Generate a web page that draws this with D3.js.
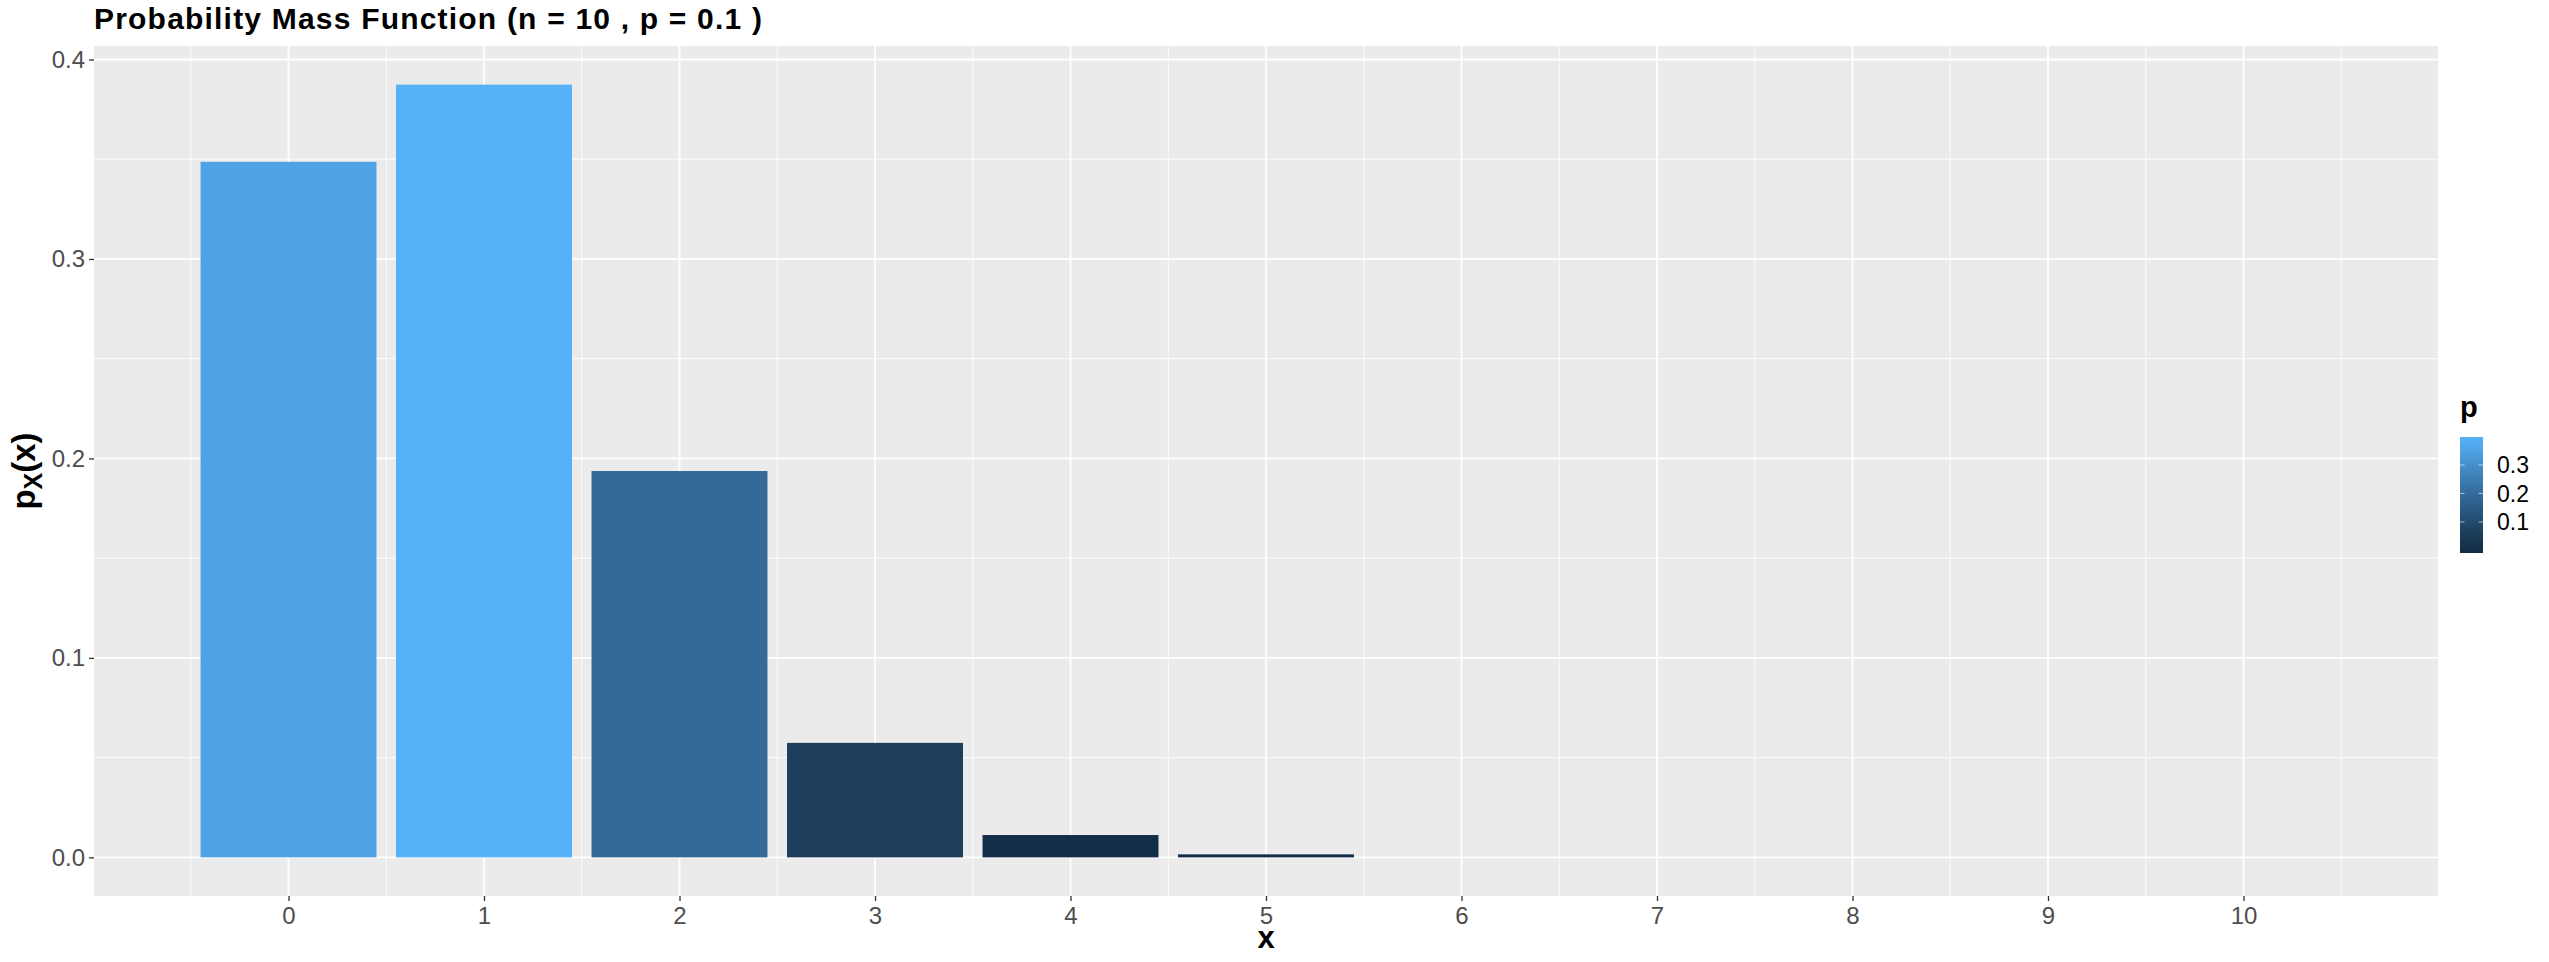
<!DOCTYPE html>
<html><head><meta charset="utf-8">
<script src="https://cdn.jsdelivr.net/npm/d3@7"></script>
<style>
html,body{margin:0;padding:0;background:#fff;}
svg{display:block;font-family:"Liberation Sans",Arial,Helvetica,sans-serif;}
</style></head>
<body>
<svg id="chart" width="2549" height="962"></svg>
<script>
// Data
const xValues = [0,1,2,3,4,5,6,7,8,9,10];
const pmf = [0.3487,0.3874,0.1937,0.0574,0.0112,0.0015,0.0000,0.0000,0.0000,0.0000,0.0000];
const yTicks = [0,0.1,0.2,0.3,0.4];
const xTicks = [0,1,2,3,4,5,6,7,8,9,10];
const legendTicks = [0.1,0.2,0.3];
const titleText = "Probability Mass Function (n = 10 , p = 0.1 )";

const svg = d3.select("#chart");
const P = {left:94, right:2438, top:46, bottom:896};
const barW = 0.9;

const xmin = d3.min(xValues) - barW/2, xmax = d3.max(xValues) + barW/2;
const xexp = (xmax - xmin) * 0.05;
const x = d3.scaleLinear().domain([xmin - xexp, xmax + xexp]).range([P.left, P.right]);
const ymax = d3.max(pmf);
const yexp = ymax * 0.05;
const y = d3.scaleLinear().domain([0 - yexp, ymax + yexp]).range([P.bottom, P.top]);
const color = d3.scaleLinear().domain([d3.min(pmf), ymax]).range(["#132B43","#56B1F7"]).interpolate(d3.interpolateLab);

// panel
svg.append("rect").attr("x",P.left).attr("y",P.top).attr("width",P.right-P.left).attr("height",P.bottom-P.top).attr("fill","#EBEBEB");

const g = svg.append("g");
// minor grid
const yMinor = d3.range(yTicks.length-1).map(i => (yTicks[i]+yTicks[i+1])/2);
const xMinor = [xTicks[0]-0.5].concat(xTicks.map(v => v+0.5));
g.selectAll(".ymin").data(yMinor).join("line")
  .attr("x1",P.left).attr("x2",P.right).attr("y1",d=>y(d)).attr("y2",d=>y(d))
  .attr("stroke","#fff").attr("stroke-width",0.9);
g.selectAll(".xmin").data(xMinor).join("line")
  .attr("y1",P.top).attr("y2",P.bottom).attr("x1",d=>x(d)).attr("x2",d=>x(d))
  .attr("stroke","#fff").attr("stroke-width",0.9);
// major grid
g.selectAll(".ymaj").data(yTicks).join("line")
  .attr("x1",P.left).attr("x2",P.right).attr("y1",d=>y(d)).attr("y2",d=>y(d))
  .attr("stroke","#fff").attr("stroke-width",1.8);
g.selectAll(".xmaj").data(xTicks).join("line")
  .attr("y1",P.top).attr("y2",P.bottom).attr("x1",d=>x(d)).attr("x2",d=>x(d))
  .attr("stroke","#fff").attr("stroke-width",1.8);

// bars
svg.append("g").selectAll("rect").data(xValues.filter((d,i)=>pmf[i]>0)).join("rect")
  .attr("x", (d)=>x(d - barW/2))
  .attr("width", (d)=>x(d + barW/2) - x(d - barW/2))
  .attr("y", (d)=>y(pmf[xValues.indexOf(d)]))
  .attr("height", (d)=>y(0) - y(pmf[xValues.indexOf(d)]))
  .attr("fill", (d)=>color(pmf[xValues.indexOf(d)]));

// axes
const yAxis = svg.append("g").attr("transform",`translate(${P.left},0)`)
  .call(d3.axisLeft(y).tickValues(yTicks).tickFormat(d3.format(".1f")).tickSize(5).tickPadding(4));
const xAxis = svg.append("g").attr("transform",`translate(0,${P.bottom})`)
  .call(d3.axisBottom(x).tickValues(xTicks).tickFormat(d3.format("d")).tickSize(5).tickPadding(6));
[yAxis,xAxis].forEach(a=>{
  a.select(".domain").remove();
  a.selectAll(".tick line").attr("stroke","#333333").attr("stroke-width",1.3);
  a.selectAll(".tick text").attr("fill","#4D4D4D").style("font-size","24px").style("font-family","Liberation Sans, Arial, sans-serif");
});

// titles
svg.append("text").attr("x",P.left).attr("y",29).attr("font-weight","bold").attr("font-size",30)
  .attr("letter-spacing",1.2).attr("fill","#000").text(titleText);
svg.append("text").attr("x",(P.left+P.right)/2).attr("y",948).attr("text-anchor","middle").attr("font-weight","bold").attr("font-size",31).text("x");
const yt = svg.append("text").attr("transform",`translate(35,${(P.top+P.bottom)/2}) rotate(-90)`)
  .attr("text-anchor","middle").attr("font-weight","bold").attr("font-size",33);
yt.append("tspan").text("p");
yt.append("tspan").attr("font-size",25).attr("dy",7).text("X");
yt.append("tspan").attr("dy",-7).text("(x)");

// legend
const L = {x:2460, w:23, top:437, bottom:553};
svg.append("text").attr("x",L.x).attr("y",417).attr("font-weight","bold").attr("font-size",29).text("p");
const ly = d3.scaleLinear().domain([0, ymax]).range([550.5, 440]);
const defs = svg.append("defs");
const grad = defs.append("linearGradient").attr("id","lg").attr("x1",0).attr("y1",1).attr("x2",0).attr("y2",0);
const stops = d3.range(0,11).map(i => i/10);
grad.selectAll("stop").data(stops).join("stop")
  .attr("offset", d=>d)
  .attr("stop-color", d=>color(Math.max(0, Math.min(ymax, ly.invert(L.bottom - d*(L.bottom-L.top))))));
svg.append("rect").attr("x",L.x).attr("y",L.top).attr("width",L.w).attr("height",L.bottom-L.top).attr("fill","url(#lg)");
const lg = svg.append("g");
lg.selectAll(".lt1").data(legendTicks).join("line")
  .attr("x1",L.x).attr("x2",L.x+4.5).attr("y1",d=>ly(d)).attr("y2",d=>ly(d)).attr("stroke","#fff").attr("stroke-opacity",0.6).attr("stroke-width",1);
lg.selectAll(".lt2").data(legendTicks).join("line")
  .attr("x1",L.x+L.w-4.5).attr("x2",L.x+L.w).attr("y1",d=>ly(d)).attr("y2",d=>ly(d)).attr("stroke","#fff").attr("stroke-opacity",0.6).attr("stroke-width",1);
lg.selectAll("text").data(legendTicks).join("text")
  .attr("x",2497).attr("y",d=>ly(d)).attr("dy","0.36em").attr("font-size",23).attr("fill","#000")
  .text(d3.format(".1f"));
</script>
</body></html>
